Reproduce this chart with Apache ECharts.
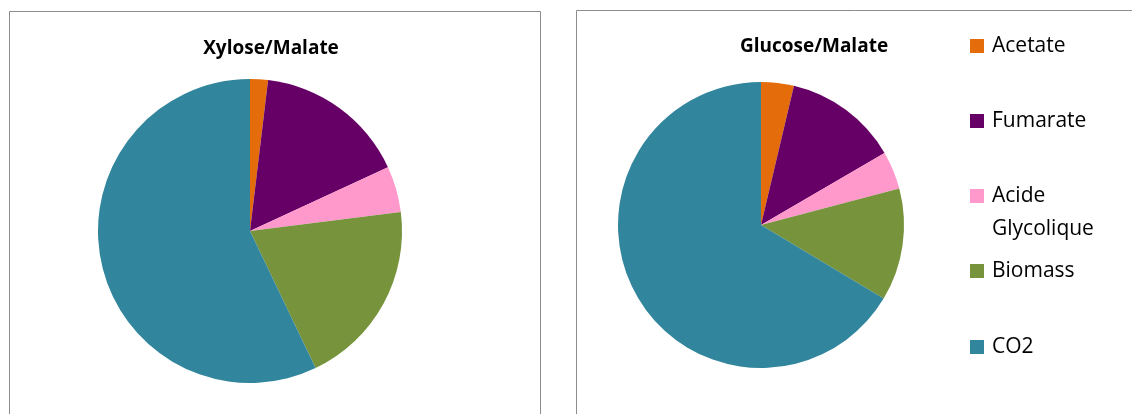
<!DOCTYPE html>
<html>
<head>
<meta charset="utf-8">
<script src="https://cdn.jsdelivr.net/npm/echarts@6/dist/echarts.min.js"></script>
<style>
  html, body { margin: 0; padding: 0; background: #fff; }
  #chart { width: 1132px; height: 414px; }
</style>
</head>
<body>
<div id="chart"></div>
<script>
// categories
const categories = ['Acetate', 'Fumarate', 'Acide Glycolique', 'Biomass', 'CO2']
const legendLabels = ['Acetate', 'Fumarate', 'Acide', 'Biomass', 'CO2']
const colors = ['#E46C0A', '#660066', '#FF99CC', '#77933C', '#31859C']
// valeurs (%)
const xyloseValues = [1.9, 16.2, 4.9, 19.9, 57.1]
const glucoseValues = [3.7, 12.9, 4.3, 12.7, 66.4]

const font = '"Open Sans", "Liberation Sans", sans-serif'

function pieData (values) {
  return categories.map((name, i) => ({
    name: name,
    value: values[i],
    itemStyle: {color: colors[i]}
  }))
}

// une légende par item pour garder les espacements
const legendTops = [24.5, 99.5, 174.5, 249.5, 325.5]
const legends = categories.map((name, i) => ({
  orient: 'vertical',
  left: 965,
  top: legendTops[i],
  itemWidth: 14,
  itemHeight: 14,
  icon: 'rect',
  data: [name],
  selectedMode: false,
  formatter: () => legendLabels[i],
  textStyle: {fontFamily: font, fontSize: 21, color: '#000', lineHeight: 33, padding: [0, 0, 0, 3]}
}))

const chart = echarts.init(document.getElementById('chart'))
chart.setOption({
  animation: false,
  title: [
    {text: 'Xylose/Malate', left: 266, top: 34, textAlign: 'center',
      textStyle: {fontFamily: font, fontSize: 19, fontWeight: 'bold', color: '#000'}},
    {text: 'Glucose/Malate', left: 809, top: 32, textAlign: 'center',
      textStyle: {fontFamily: font, fontSize: 19, fontWeight: 'bold', color: '#000'}}
  ],
  legend: legends,
  graphic: [
    {type: 'rect', shape: {x: 9.5, y: 11.5, width: 531, height: 420},
      style: {fill: 'none', stroke: '#8c8c8c', lineWidth: 1}},
    {type: 'rect', shape: {x: 576.5, y: 10.5, width: 600, height: 420},
      style: {fill: 'none', stroke: '#8c8c8c', lineWidth: 1}},
    // deuxième ligne de « Acide Glycolique »
    {type: 'text', left: 992, top: 219,
      style: {text: 'Glycolique', font: '21px ' + font, fill: '#000'}}
  ],
  series: [
    {
      name: 'Xylose/Malate',
      type: 'pie',
      center: [250, 231],
      radius: [0, 152],
      startAngle: 90,
      clockwise: true,
      label: {show: false},
      labelLine: {show: false},
      emphasis: {disabled: true},
      data: pieData(xyloseValues)
    },
    {
      name: 'Glucose/Malate',
      type: 'pie',
      center: [761, 225],
      radius: [0, 143],
      startAngle: 90,
      clockwise: true,
      label: {show: false},
      labelLine: {show: false},
      emphasis: {disabled: true},
      data: pieData(glucoseValues)
    }
  ]
})
</script>
</body>
</html>
